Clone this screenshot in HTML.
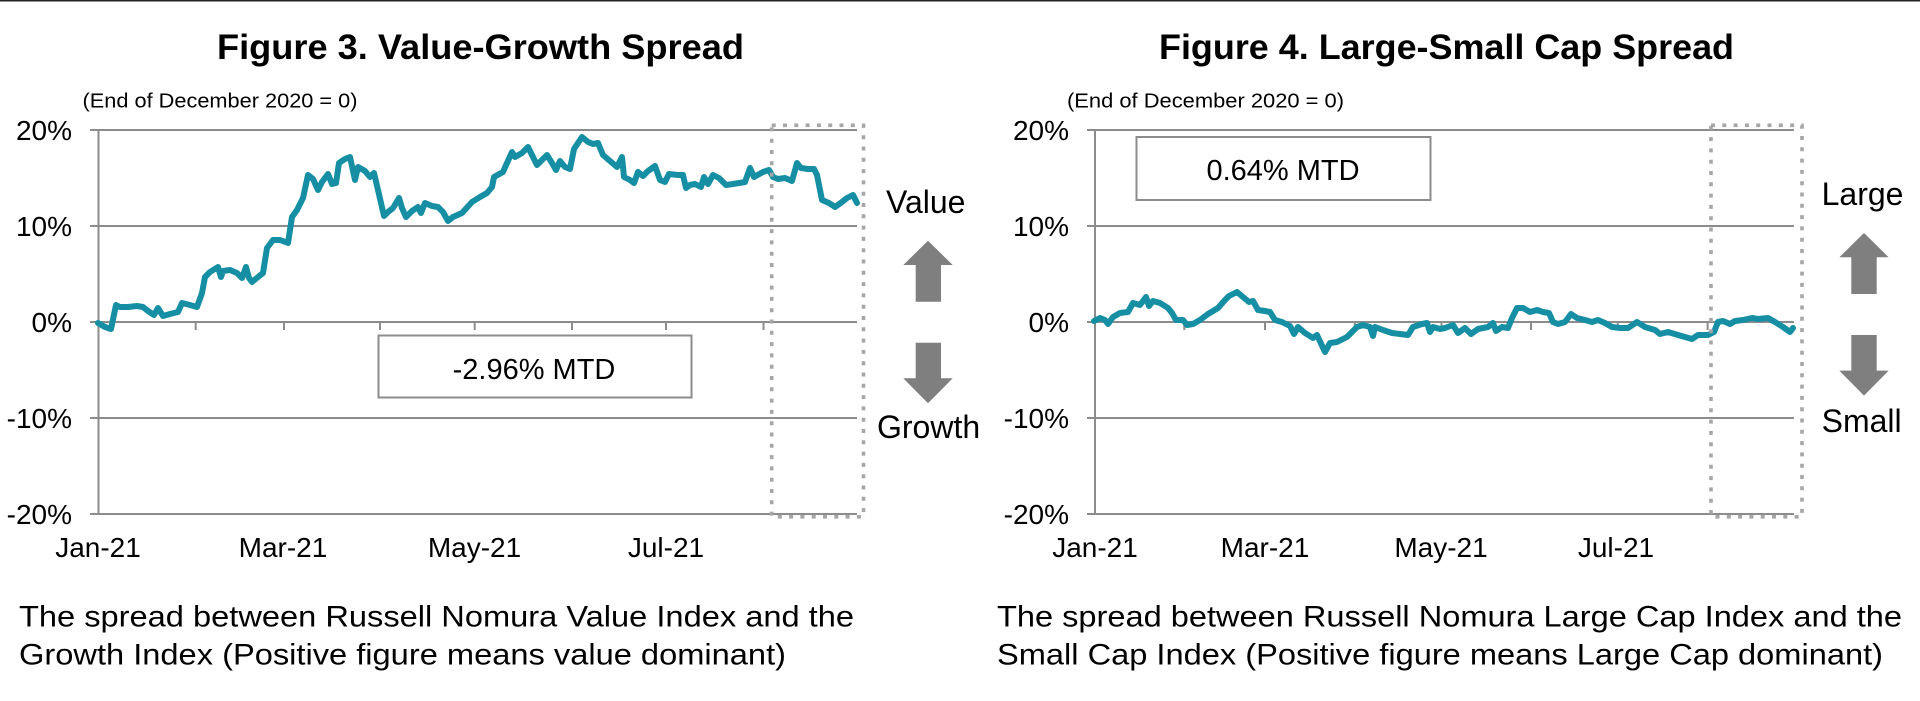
<!DOCTYPE html>
<html>
<head>
<meta charset="utf-8">
<style>
  html,body{margin:0;padding:0;background:#fff;}
  body{width:1920px;height:701px;overflow:hidden;}
  svg{display:block;}
  text{font-family:"Liberation Sans",Arial,sans-serif;fill:#000;}
</style>
</head>
<body>
<svg width="1920" height="701" viewBox="0 0 1920 701" xmlns="http://www.w3.org/2000/svg">
  <rect x="0" y="0" width="1920" height="701" fill="#fff"/>
  <rect x="0" y="0" width="1920" height="1.5" fill="#222"/>

  <!-- ================= LEFT CHART ================= -->
  <text x="217" y="59" font-size="35" font-weight="bold" textLength="527" lengthAdjust="spacingAndGlyphs">Figure 3. Value-Growth Spread</text>
  <text x="82.5" y="107.5" font-size="20" textLength="275" lengthAdjust="spacingAndGlyphs">(End of December 2020 = 0)</text>

  <g stroke="#8c8c8c" stroke-width="2">
    <line x1="90" y1="130" x2="857" y2="130"/>
    <line x1="90" y1="226" x2="857" y2="226"/>
    <line x1="90" y1="322" x2="857" y2="322"/>
    <line x1="90" y1="418" x2="857" y2="418"/>
    <line x1="90" y1="514" x2="857" y2="514"/>
    <line x1="98.5" y1="130" x2="98.5" y2="514"/>
    <line x1="195.7" y1="322" x2="195.7" y2="330"/>
    <line x1="284" y1="322" x2="284" y2="330"/>
    <line x1="380" y1="322" x2="380" y2="330"/>
    <line x1="474.7" y1="322" x2="474.7" y2="330"/>
    <line x1="572" y1="322" x2="572" y2="330"/>
    <line x1="666" y1="322" x2="666" y2="330"/>
    <line x1="763.5" y1="322" x2="763.5" y2="330"/>
  </g>

  <g font-size="28" text-anchor="end">
    <text x="72" y="140">20%</text>
    <text x="72" y="236">10%</text>
    <text x="72" y="332">0%</text>
    <text x="72" y="428">-10%</text>
    <text x="72" y="524">-20%</text>
  </g>
  <g font-size="28" text-anchor="middle">
    <text x="98" y="557">Jan-21</text>
    <text x="283" y="557">Mar-21</text>
    <text x="474.5" y="557">May-21</text>
    <text x="666" y="557">Jul-21</text>
  </g>

  <rect x="378.5" y="335.5" width="313" height="62" fill="#fff" stroke="#8c8c8c" stroke-width="2"/>
  <text x="534" y="379" font-size="29" text-anchor="middle">-2.96% MTD</text>

  <polyline fill="none" stroke="#168fa4" stroke-width="6" stroke-linejoin="round" stroke-linecap="round"
    points="98,323 105,327 111,329 116,305 120,307 128,307 137,306 143,307 148,311 154,315 158,308 163,316 170,314 178,312 182,303 190,305 197,307 202,293 205,277 210,272 218,267 221,277 223,271 230,270 237,273 242,278 246,267 249,278 252,282 258,277 263,273 267,248 273,240 280,240 288,243 292,217 297,210 303,198 308,175 313,179 318,190 322,182 328,174 332,184 336,183 339,163 345,159 350,157 355,180 358,167 365,171 370,177 374,173 378,190 384,216 388,212 393,208 399,198 402,208 406,217 412,211 418,207 421,213 425,203 432,206 438,207 443,212 448,221 453,217 462,213 472,202 480,197 487,193 492,187 494,177 503,172 507,163 512,152 515,157 522,153 528,147 533,157 537,165 542,160 547,155 552,163 556,170 560,161 565,167 570,169 574,149 582,137 588,142 593,144 598,143 603,155 610,161 617,167 622,157 624,177 630,180 634,183 638,172 643,176 648,171 655,166 660,180 665,182 669,174 678,175 683,175 686,188 690,185 695,184 701,187 704,177 708,184 713,175 719,178 726,185 733,184 745,182 750,168 754,177 763,172 769,170 773,177 778,179 785,178 792,181 797,163 801,168 808,169 814,169 817,175 822,200 829,203 835,207 842,202 847,198 853,195 857,203"/>

  <rect x="771.7" y="125.3" width="91.8" height="391.5" fill="none" stroke="#a6a6a6" stroke-width="3.6" stroke-dasharray="4 7.3"/>

  <polygon fill="#7f7f7f" points="928,240.7 952.7,265 941,265 941,301.7 915.7,301.7 915.7,265 903.3,265"/>
  <polygon fill="#7f7f7f" points="915.7,342.7 941,342.7 941,378.3 952.7,378.3 928,403.3 903.3,378.3 915.7,378.3"/>
  <text x="886" y="213" font-size="32">Value</text>
  <text x="877" y="438" font-size="32">Growth</text>

  <text x="19" y="626.5" font-size="30" textLength="835" lengthAdjust="spacingAndGlyphs">The spread between Russell Nomura Value Index and the</text>
  <text x="19" y="664.5" font-size="30" textLength="767" lengthAdjust="spacingAndGlyphs">Growth Index (Positive figure means value dominant)</text>

  <!-- ================= RIGHT CHART ================= -->
  <text x="1159" y="59" font-size="35" font-weight="bold" textLength="575" lengthAdjust="spacingAndGlyphs">Figure 4. Large-Small Cap Spread</text>
  <text x="1067" y="107.5" font-size="20" textLength="277" lengthAdjust="spacingAndGlyphs">(End of December 2020 = 0)</text>

  <g stroke="#8c8c8c" stroke-width="2">
    <line x1="1087" y1="130" x2="1794" y2="130"/>
    <line x1="1087" y1="226" x2="1794" y2="226"/>
    <line x1="1087" y1="322" x2="1794" y2="322"/>
    <line x1="1087" y1="418" x2="1794" y2="418"/>
    <line x1="1087" y1="514" x2="1794" y2="514"/>
    <line x1="1095" y1="130" x2="1095" y2="514"/>
    <line x1="1184.3" y1="322" x2="1184.3" y2="330"/>
    <line x1="1265" y1="322" x2="1265" y2="330"/>
    <line x1="1354.8" y1="322" x2="1354.8" y2="330"/>
    <line x1="1441.5" y1="322" x2="1441.5" y2="330"/>
    <line x1="1531" y1="322" x2="1531" y2="330"/>
    <line x1="1617.8" y1="322" x2="1617.8" y2="330"/>
    <line x1="1707.6" y1="322" x2="1707.6" y2="330"/>
  </g>

  <g font-size="28" text-anchor="end">
    <text x="1069" y="140">20%</text>
    <text x="1069" y="236">10%</text>
    <text x="1069" y="332">0%</text>
    <text x="1069" y="428">-10%</text>
    <text x="1069" y="524">-20%</text>
  </g>
  <g font-size="28" text-anchor="middle">
    <text x="1095" y="557">Jan-21</text>
    <text x="1265" y="557">Mar-21</text>
    <text x="1441" y="557">May-21</text>
    <text x="1616" y="557">Jul-21</text>
  </g>

  <rect x="1136.5" y="137" width="294" height="63" fill="#fff" stroke="#8c8c8c" stroke-width="2"/>
  <text x="1283" y="180" font-size="29" text-anchor="middle">0.64% MTD</text>

  <polyline fill="none" stroke="#168fa4" stroke-width="6" stroke-linejoin="round" stroke-linecap="round"
    points="1094,321 1100,318 1105,320 1108,324 1113,317 1120,313 1128,312 1133,303 1140,305 1146,297 1149,306 1153,301 1160,303 1168,308 1172,313 1176,320 1183,320 1187,325 1193,324 1200,320 1208,314 1218,308 1225,300 1229,296 1237,292 1243,297 1249,302 1253,301 1258,310 1265,311 1270,312 1275,320 1282,322 1290,326 1294,334 1298,327 1305,333 1313,338 1317,335 1325,352 1330,343 1337,342 1347,337 1357,327 1363,325 1370,327 1373,336 1375,327 1383,330 1392,333 1400,334 1408,335 1413,327 1422,324 1427,323 1430,332 1433,327 1440,329 1445,328 1453,325 1458,333 1465,328 1471,334 1478,329 1488,327 1493,323 1496,331 1502,327 1508,328 1512,318 1517,308 1523,308 1530,312 1537,310 1543,312 1549,313 1553,322 1558,324 1565,322 1571,314 1577,318 1585,320 1592,322 1598,320 1605,323 1612,327 1620,328 1628,328 1637,322 1645,327 1655,330 1660,334 1668,332 1678,335 1692,339 1698,335 1708,335 1714,332 1718,322 1723,321 1730,324 1735,321 1743,320 1752,318 1758,319 1768,318 1775,322 1783,327 1790,332 1793,328"/>

  <rect x="1711" y="125.3" width="91" height="391.5" fill="none" stroke="#a6a6a6" stroke-width="3.6" stroke-dasharray="4 7.3"/>

  <polygon fill="#7f7f7f" points="1864,233 1888.7,257.3 1876.7,257.3 1876.7,294 1851.3,294 1851.3,257.3 1839.3,257.3"/>
  <polygon fill="#7f7f7f" points="1851.3,335 1876.7,335 1876.7,370.6 1888.7,370.6 1864,395.6 1839.3,370.6 1851.3,370.6"/>
  <text x="1821.6" y="205" font-size="32">Large</text>
  <text x="1821.6" y="432" font-size="32">Small</text>

  <text x="997" y="626.5" font-size="30" textLength="905" lengthAdjust="spacingAndGlyphs">The spread between Russell Nomura Large Cap Index and the</text>
  <text x="997" y="664.5" font-size="30" textLength="886" lengthAdjust="spacingAndGlyphs">Small Cap Index (Positive figure means Large Cap dominant)</text>
</svg>
</body>
</html>
